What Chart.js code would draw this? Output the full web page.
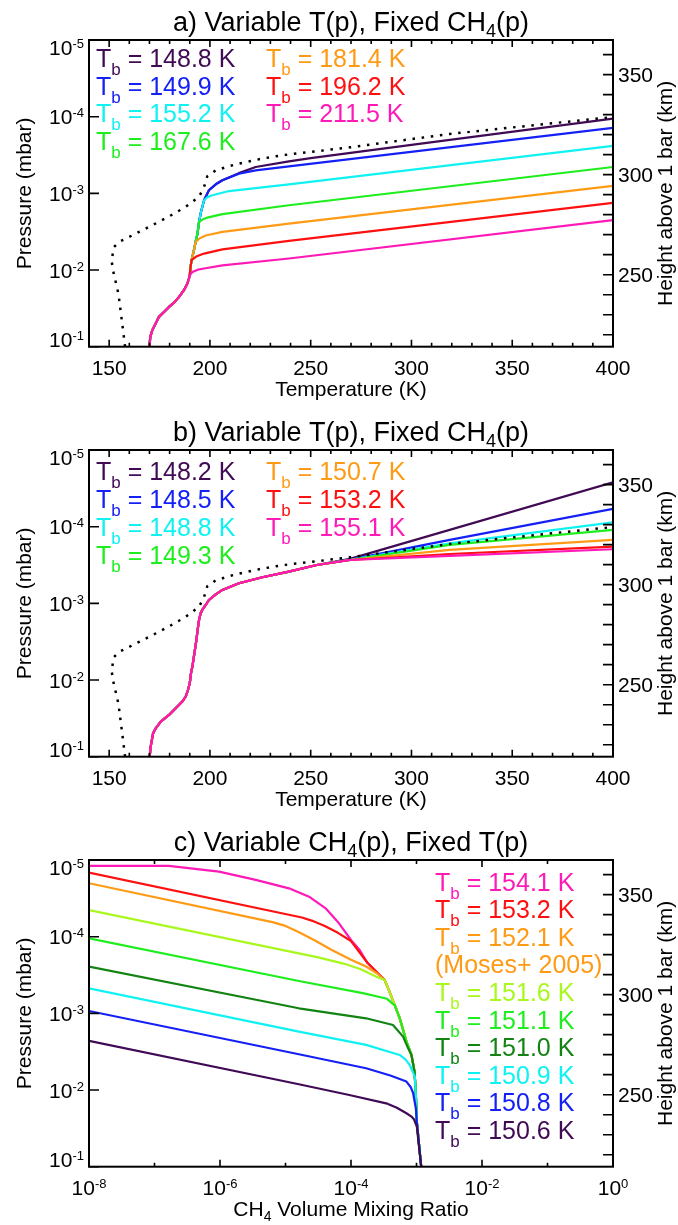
<!DOCTYPE html>
<html>
<head>
<meta charset="utf-8">
<script src="https://cdn.jsdelivr.net/npm/chart.js@4.4.0/dist/chart.umd.min.js"></script>
<style>
  html, body { margin: 0; padding: 0; background: #fff; }
  #wrap { position: relative; width: 678px; height: 1225px; }
  canvas { position: absolute; left: 0; }
</style>
</head>
<body>
<div id="wrap">
  <canvas id="panel-a" width="678" height="410" style="top:0px"></canvas>
  <canvas id="panel-b" width="678" height="410" style="top:410px"></canvas>
  <canvas id="panel-c" width="678" height="405" style="top:820px"></canvas>
</div>
<script>
// ---------------- data: [T (K), p (mbar)] ----------------
// panel a, shared lower profile and the steep section the branches leave from
const aBase = [[170.0, 1.0e-1], [170.4, 7.45e-2], [171.4, 6.1e-2], [173.1, 4.99e-2], [174.7, 4.08e-2], [177.2, 3.52e-2], [179.7, 3.03e-2],
  [182.2, 2.66e-2], [184.7, 2.24e-2], [187.1, 1.83e-2], [188.8, 1.50e-2], [189.6, 1.29e-2], [190.0, 1.17e-2]];
const aSteep = [[190.4, 9.12e-3], [190.9, 7.41e-3], [192.0, 5.62e-3], [192.9, 4.31e-3], [193.8, 3.40e-3], [194.6, 2.36e-3], [195.5, 1.78e-3], [197.1, 1.23e-3]];
const a2115 = [[191.3, 1.06e-2], [194.0, 9.9e-3], [197.1, 9.55e-3], [206.2, 8.71e-3], [239.2, 7.08e-3], [400, 2.24e-3]];
const a1962 = [[193.5, 6.6e-3], [197.1, 6.10e-3], [206.2, 5.37e-3], [239.2, 4.17e-3], [400, 1.33e-3]];
const a1814 = [[195.0, 3.85e-3], [197.9, 3.55e-3], [206.2, 3.18e-3], [239.2, 2.48e-3], [400, 8.0e-4]];
const a1676 = [[196.3, 2.2e-3], [198.7, 2.07e-3], [206.2, 1.87e-3], [239.2, 1.43e-3], [400, 4.53e-4]];
const a1552 = [[198.8, 1.12e-3], [201.2, 1.06e-3], [209.5, 9.33e-4], [239.2, 7.62e-4], [400, 2.41e-4]];
const a1499 = [[199.5, 9.12e-4], [202.9, 7.62e-4], [206.2, 6.76e-4], [214.4, 5.53e-4], [222.7, 5.01e-4], [239.2, 4.44e-4], [400, 1.40e-4]];
const a1488 = [[199.5, 9.12e-4], [202.9, 7.62e-4], [206.2, 6.76e-4], [214.4, 5.45e-4], [222.7, 4.53e-4], [239.2, 3.82e-4], [250.0, 3.47e-4], [300, 2.33e-4], [400, 1.06e-4]];

// panel b
const bBase = [[170.1, 1.0e-1], [170.6, 7.38e-2], [171.8, 4.94e-2], [173.1, 4.26e-2], [175.6, 3.48e-2], [179.7, 2.85e-2], [183.0, 2.33e-2],
  [186.3, 1.91e-2], [188.0, 1.64e-2], [189.1, 1.35e-2], [190.0, 1.10e-2], [190.6, 8.17e-3], [191.3, 6.68e-3], [192.3, 4.48e-3],
  [193.3, 3.0e-3], [193.9, 2.22e-3], [194.6, 1.65e-3], [195.4, 1.35e-3], [196.2, 1.22e-3], [197.9, 1.05e-3], [199.5, 9.04e-4],
  [202.9, 7.62e-4], [206.2, 6.68e-4], [214.4, 5.47e-4], [226.0, 4.57e-4], [239.2, 3.85e-4], [253.0, 3.16e-4]];
const b1482 = [[269.5, 2.63e-4], [400, 2.64e-5]];
const b1485 = [[269.5, 2.69e-4], [319, 1.49e-4], [400, 5.87e-5]];
const b1488 = [[269.5, 2.71e-4], [319, 1.65e-4], [400, 8.77e-5]];
const b1493 = [[269.5, 2.72e-4], [319, 1.73e-4], [400, 1.10e-4]];
const b1507 = [[269.5, 2.72e-4], [319, 2.01e-4], [400, 1.49e-4]];
const b1532 = [[269.5, 2.72e-4], [319, 2.27e-4], [400, 1.82e-4]];
const b1551 = [[269.5, 2.72e-4], [319, 2.41e-4], [400, 1.97e-4]];

// reference profile (dotted), both panels
const tpRef = [[157.9, 1.0e-1], [156.5, 5.01e-2], [154.6, 2.04e-2], [151.9, 1.007e-2], [151.2, 7.45e-3], [152.4, 5.01e-3], [154.9, 4.31e-3],
  [163.2, 3.35e-3], [171.4, 2.61e-3], [179.7, 2.0e-3], [188.0, 1.50e-3], [194.6, 1.11e-3], [197.1, 8.24e-4], [198.7, 5.98e-4], [202.9, 5.0e-4],
  [212.8, 4.18e-4], [226.0, 3.52e-4], [235.9, 3.18e-4], [269.5, 2.51e-4], [319, 1.68e-4], [400, 1.01e-4]];

// panel c: [CH4 VMR, p (mbar)]
const cTail = [[3.80e-4, 5.01e-4], [4.68e-4, 7.94e-4], [5.55e-4, 1.16e-3], [7.02e-4, 2.34e-3], [8.38e-4, 3.49e-3], [9.33e-4, 5.75e-3],
  [9.77e-4, 1.12e-2], [1.012e-3, 2.63e-2], [1.18e-3, 1.0e-1]];
const cMerge = [[1.35e-4, 1.48e-4], [1.78e-4, 2.19e-4], [3.26e-4, 3.67e-4]];
const c1541 = [[1e-8, 1.19e-5], [1.66e-7, 1.19e-5], [9.66e-7, 1.42e-5], [3.51e-6, 1.82e-5], [1.13e-5, 2.34e-5], [2.29e-5, 3.01e-5], [4.1e-5, 4.27e-5], [6.56e-5, 6.70e-5], [1.02e-4, 1.13e-4]];
const c1532 = [[1e-8, 1.46e-5], [1.78e-5, 5.62e-5], [2.51e-5, 6.17e-5], [3.98e-5, 7.24e-5], [6.31e-5, 8.91e-5], [1.0e-4, 1.14e-4]];
const c1521 = [[1e-8, 2.01e-5], [6.31e-6, 6.46e-5], [1.0e-5, 7.24e-5], [1.58e-5, 8.71e-5], [2.82e-5, 1.12e-4], [5.01e-5, 1.48e-4],
  [1.0e-4, 2.0e-4], [1.70e-4, 2.45e-4], [2.51e-4, 3.02e-4], [3.26e-4, 3.67e-4]];
const c1516 = [[1e-8, 4.49e-5], [3.16e-5, 1.86e-4], [7.94e-5, 2.26e-4], [1.41e-4, 2.66e-4], [2.40e-4, 3.31e-4], [3.26e-4, 3.67e-4]];
const c1511 = [[1e-8, 1.05e-4], [1.60e-5, 3.78e-4], [1.58e-4, 5.50e-4], [3.55e-4, 6.46e-4]];
const c1510 = [[1e-8, 2.46e-4], [1.60e-5, 8.59e-4], [1.70e-4, 1.16e-3], [4.38e-4, 1.42e-3], [6.24e-4, 2.01e-3], [7.45e-4, 2.86e-3]];
const c1509 = [[1e-8, 4.71e-4], [1.60e-5, 1.73e-3], [1.70e-4, 2.58e-3], [5.55e-4, 3.49e-3], [6.76e-4, 3.98e-3], [7.89e-4, 4.71e-3], [9.42e-4, 6.68e-3]];
const c1508 = [[1e-8, 9.31e-4], [1.60e-5, 3.42e-3], [1.70e-4, 5.20e-3], [3.98e-4, 6.46e-3], [7.02e-4, 7.76e-3], [8.13e-4, 9.12e-3], [8.89e-4, 1.10e-2], [9.77e-4, 1.73e-2]];
const c1506 = [[1e-8, 2.29e-3], [1.60e-5, 8.41e-3], [9.42e-5, 1.16e-2], [3.45e-4, 1.49e-2], [5.01e-4, 1.70e-2], [7.02e-4, 2.01e-2], [8.38e-4, 2.22e-2],
  [9.12e-4, 2.40e-2], [1.012e-3, 3.0e-2], [1.18e-3, 1.0e-1]];

// legends and ticks
const legendA = ['148.8', '149.9', '155.2', '167.6', '181.4', '196.2', '211.5'];
const legendB = ['148.2', '148.5', '148.8', '149.3', '150.7', '153.2', '155.1'];
const legendC = ['154.1', '153.2', '152.1', '(Moses+ 2005)', '151.6', '151.1', '151.0', '150.9', '150.8', '150.6'];
const pressureTicks = [1e-5, 1e-4, 1e-3, 1e-2, 1e-1];
const pressureExp = ['-5', '-4', '-3', '-2', '-1'];
const heightLabels = [250, 300, 350];
const tempLabels = [150, 200, 250, 300, 350, 400];
const vmrTicks = [1e-8, 1e-6, 1e-4, 1e-2, 1];
const vmrExp = ['-8', '-6', '-4', '-2', '0'];

// ---------------- drawing ----------------
const FONT = '"Liberation Sans", Arial, Helvetica, sans-serif';
const PLOT_TOP = 40, PLOT_H = 306.7;
const COL = { purple: '#400a55', blue: '#1420f5', cyan: '#10f2f2', green: '#1eee1e', orange: '#ff9a14',
  red: '#ff1010', pink: '#ff1ab8', lime: '#a8f81e', dkgreen: '#138313' };

const n = (text, size) => ({ text, size, dy: 0 });
const sub = (text, size, dy) => ({ text, size, dy });
const sup = (text, size, dy) => ({ text, size, dy: -dy });

// parts drawn one after another, y is the cap middle of the main text
function drawRich(ctx, parts, x, y, align) {
  const base = y + 0.358 * parts[0].size;
  let w = 0;
  parts.forEach(p => { ctx.font = p.size + 'px ' + FONT; p.w = ctx.measureText(p.text).width; w += p.w; });
  let cx = align === 'center' ? x - w / 2 : align === 'right' ? x - w : x;
  ctx.textAlign = 'left';
  ctx.textBaseline = 'alphabetic';
  parts.forEach(p => { ctx.font = p.size + 'px ' + FONT; ctx.fillText(p.text, cx, base + p.dy); cx += p.w; });
}

function drawRotated(ctx, text, x, y, size) {
  ctx.save();
  ctx.translate(x, y);
  ctx.rotate(-Math.PI / 2);
  ctx.font = size + 'px ' + FONT;
  ctx.textAlign = 'center';
  ctx.textBaseline = 'alphabetic';
  ctx.fillText(text, 0, 0.358 * size);
  ctx.restore();
}

const tb = (val) => [n('T', 25), sub('b', 17, 8), n(' = ' + val + ' K', 25)];

function deco(p) {
  return {
    id: 'deco',
    afterDatasetsDraw(chart) {
      const ctx = chart.ctx, a = chart.chartArea;
      const xs = chart.scales.x, ys = chart.scales.y, hs = chart.scales.h;
      ctx.save();
      ctx.strokeStyle = '#000';
      ctx.fillStyle = '#000';

      // ticks, all pointing inward
      ctx.lineWidth = 1.6;
      ctx.beginPath();
      pressureTicks.forEach(v => { const y = ys.getPixelForValue(v); ctx.moveTo(a.left, y); ctx.lineTo(a.left + 10, y); });
      for (let v = 220; v <= 360; v += 10) { const y = hs.getPixelForValue(v); ctx.moveTo(a.right, y); ctx.lineTo(a.right - 10, y); }
      p.xTicks.forEach(t => {
        const x = xs.getPixelForValue(t.v), L = t.major ? 7 : 4;
        ctx.moveTo(x, a.bottom); ctx.lineTo(x, a.bottom - L);
        ctx.moveTo(x, a.top); ctx.lineTo(x, a.top + L);
      });
      ctx.stroke();

      ctx.lineWidth = 2;
      ctx.strokeRect(a.left, a.top, a.right - a.left, a.bottom - a.top);

      // tick labels
      pressureTicks.forEach((v, i) => {
        let y = ys.getPixelForValue(v);
        if (i === 0) y += 7.5;
        if (i === pressureTicks.length - 1) y -= 7.5;
        drawRich(ctx, [n('10', 21), sup(pressureExp[i], 13, 7)], a.left - 5, y, 'right');
      });
      heightLabels.forEach(v => drawRich(ctx, [n(String(v), 21)], a.right + 5, hs.getPixelForValue(v), 'left'));
      p.xLabels.forEach(l => drawRich(ctx, l.parts, xs.getPixelForValue(l.v), a.bottom + 21, 'center'));

      // titles
      const mid = (a.left + a.right) / 2;
      drawRich(ctx, p.title, mid, a.top - 18.7, 'center');
      drawRich(ctx, p.xTitle, mid, a.bottom + 42, 'center');
      drawRotated(ctx, 'Pressure (mbar)', 23, (a.top + a.bottom) / 2, 21);
      drawRotated(ctx, 'Height above 1 bar (km)', 664.5, (a.top + a.bottom) / 2, 21);

      // legend
      p.legend.forEach(e => { ctx.fillStyle = e.color; drawRich(ctx, e.parts, e.x, a.top + e.dy, 'left'); });
      ctx.restore();
    }
  };
}

const pts = arr => arr.map(([x, y]) => ({ x, y }));
const line = (arr, color) => ({ data: pts(arr), borderColor: color, borderWidth: 2.2, pointRadius: 0, fill: false });
const dotted = arr => ({ data: pts(arr), borderColor: '#000', borderWidth: 2.5, borderDash: [2.5, 6.7], borderCapStyle: 'butt', pointRadius: 0, fill: false });

function makeChart(id, p) {
  const canvas = document.getElementById(id);
  const H = canvas.height;
  const hidden = { ticks: { display: false }, grid: { display: false }, border: { display: false } };
  return new Chart(canvas, {
    type: 'line',
    data: { datasets: p.datasets },
    options: {
      responsive: false, animation: false, events: [],
      layout: { padding: { top: PLOT_TOP, left: 0, right: 0, bottom: 0 } },
      plugins: { legend: { display: false }, tooltip: { enabled: false }, title: { display: false } },
      elements: { line: { tension: 0, borderJoinStyle: 'round' }, point: { radius: 0 } },
      scales: {
        x: { type: p.xType, min: p.xMin, max: p.xMax, ...hidden, afterFit: s => { s.height = H - PLOT_TOP - PLOT_H; } },
        y: { type: 'logarithmic', reverse: true, min: 1e-5, max: 1e-1, position: 'left', ...hidden, afterFit: s => { s.width = 89; } },
        h: { type: 'linear', axis: 'y', position: 'right', min: 214, max: 367.3, ...hidden, afterFit: s => { s.width = 65; } }
      }
    },
    plugins: [deco(p)]
  });
}

// temperature ticks every 10 K, major every 50 K
const tempTicks = [];
for (let v = 150; v < 400; v += 10) tempTicks.push({ v, major: v % 50 === 0 });
const tempXLabels = tempLabels.map(v => ({ v, parts: [n(String(v), 21)] }));

const abLegend = (vals, colors, top) => vals.map((v, i) => ({
  parts: tb(v), color: colors[i], x: i < 4 ? 96 : 266, dy: top + (i % 4) * 27.8
}));
const abColors = [COL.purple, COL.blue, COL.cyan, COL.green, COL.orange, COL.red, COL.pink];

// panel a (pink drawn on top, so it comes first)
makeChart('panel-a', {
  xType: 'linear', xMin: 140, xMax: 400, xTicks: tempTicks, xLabels: tempXLabels,
  title: [n('a) Variable T(p), Fixed CH', 27), sub('4', 18, 6), n('(p)', 27)],
  xTitle: [n('Temperature (K)', 21)],
  legend: abLegend(legendA, abColors, 17.8),
  datasets: [
    dotted(tpRef),
    line(aBase.concat(a2115), COL.pink),
    line(aBase.concat(aSteep.slice(0, 2), a1962), COL.red),
    line(aBase.concat(aSteep.slice(0, 4), a1814), COL.orange),
    line(aBase.concat(aSteep.slice(0, 6), a1676), COL.green),
    line(aBase.concat(aSteep, a1552), COL.cyan),
    line(aBase.concat(aSteep, a1499), COL.blue),
    line(aBase.concat(aSteep, a1488), COL.purple)
  ]
});

// panel b
makeChart('panel-b', {
  xType: 'linear', xMin: 140, xMax: 400, xTicks: tempTicks, xLabels: tempXLabels,
  title: [n('b) Variable T(p), Fixed CH', 27), sub('4', 18, 6), n('(p)', 27)],
  xTitle: [n('Temperature (K)', 21)],
  legend: abLegend(legendB, abColors, 21.3),
  datasets: [
    dotted(tpRef),
    line(bBase.concat(b1551), COL.pink),
    line(bBase.concat(b1532), COL.red),
    line(bBase.concat(b1507), COL.orange),
    line(bBase.concat(b1493), COL.green),
    line(bBase.concat(b1488), COL.cyan),
    line(bBase.concat(b1485), COL.blue),
    line(bBase.concat(b1482), COL.purple)
  ]
});

// panel c (purple drawn on top)
const vmrTickList = [];
for (let e = -7; e <= -1; e++) vmrTickList.push({ v: Math.pow(10, e), major: e % 2 === 0 });
const cColors = [COL.pink, COL.red, COL.orange, COL.orange, COL.lime, COL.green, COL.dkgreen, COL.cyan, COL.blue, COL.purple];
makeChart('panel-c', {
  xType: 'logarithmic', xMin: 1e-8, xMax: 1, xTicks: vmrTickList,
  xLabels: vmrTicks.map((v, i) => ({ v, parts: [n('10', 21), sup(vmrExp[i], 13, 7)] })),
  title: [n('c) Variable CH', 27), sub('4', 18, 6), n('(p), Fixed T(p)', 27)],
  xTitle: [n('CH', 21), sub('4', 14, 5), n(' Volume Mixing Ratio', 21)],
  legend: legendC.map((v, i) => ({
    parts: v.startsWith('(') ? [n(v, 25)] : tb(v), color: cColors[i], x: 435, dy: 21.7 + i * 27.6
  })),
  datasets: [
    line(c1506, COL.purple),
    line(c1508.concat(cTail.slice(7)), COL.blue),
    line(c1509.concat(cTail.slice(6)), COL.cyan),
    line(c1510.concat(cTail.slice(4)), COL.dkgreen),
    line(c1511.concat(cTail.slice(1)), COL.green),
    line(c1516.concat(cTail), COL.lime),
    line(c1521.concat(cTail), COL.orange),
    line(c1532.concat(cMerge.slice(1), cTail), COL.red),
    line(c1541.concat(cMerge, cTail), COL.pink)
  ]
});
</script>
</body>
</html>
